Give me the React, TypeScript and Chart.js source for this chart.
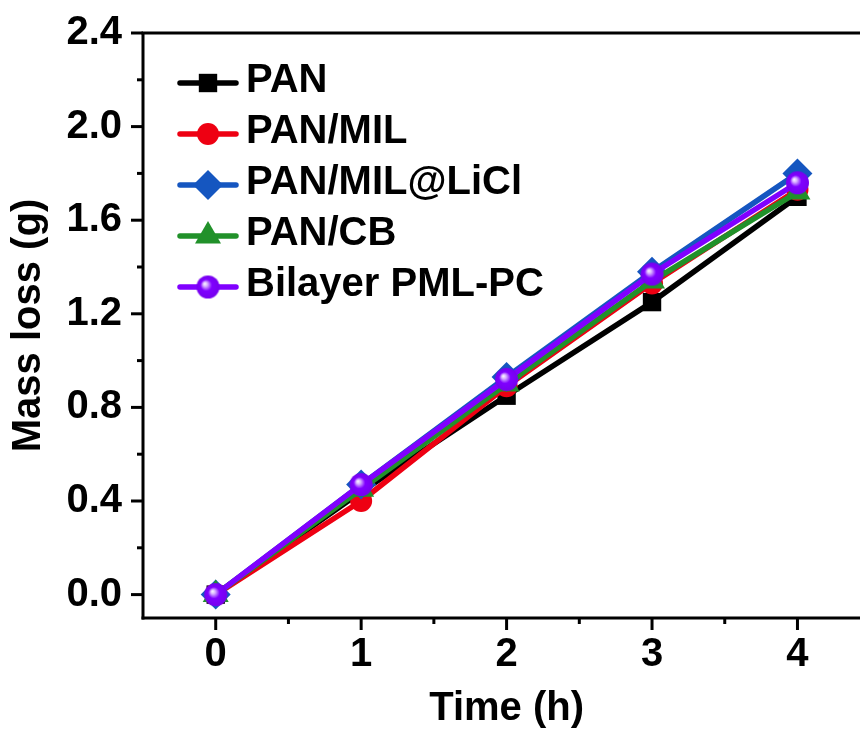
import React, { useEffect, useRef } from 'react';
import { Chart, registerables } from 'chart.js';

Chart.register(...registerables);

// ---- data ----
const TIME = [0, 1, 2, 3, 4];
const PAN = [0, 0.44, 0.85, 1.25, 1.70];
const PAN_MIL = [0, 0.40, 0.89, 1.33, 1.73];
const PAN_MIL_LICL = [0, 0.47, 0.93, 1.38, 1.80];
const PAN_CB = [0, 0.45, 0.90, 1.34, 1.72];
const BILAYER = [0, 0.47, 0.92, 1.37, 1.76];
const SERIES_NAMES = ['PAN', 'PAN/MIL', 'PAN/MIL@LiCl', 'PAN/CB', 'Bilayer PML-PC'];
const X_TICKS = [0, 1, 2, 3, 4];
const Y_TICKS = [0, 0.4, 0.8, 1.2, 1.6, 2.0, 2.4];
const X_TITLE = 'Time (h)';
const Y_TITLE = 'Mass loss (g)';

// ---- styles ----
const FONT = "'Liberation Sans', Arial, Helvetica, sans-serif";
const FS = 40;
const COLORS = ['#000000', '#EE0012', '#1556C0', '#21912A', '#8000FF'];
const STYLES = ['rect', 'circle', 'rectRot', 'triangle', 'sphere'];
const RADII = [13, 11, 15, 15, 11.5];

function makeSphere(r: number, color: string) {
  const c = document.createElement('canvas');
  const size = Math.ceil(r * 2) + 2;
  c.width = size;
  c.height = size;
  const g = c.getContext('2d')!;
  const cx = size / 2, cy = size / 2;
  const grad = g.createRadialGradient(cx - r * 0.3, cy - r * 0.3, 0, cx, cy, r);
  grad.addColorStop(0, '#ffffff');
  grad.addColorStop(0.2, '#d7b0ff');
  grad.addColorStop(0.5, color);
  grad.addColorStop(1, '#7600ee');
  g.fillStyle = grad;
  g.beginPath();
  g.arc(cx, cy, r, 0, Math.PI * 2);
  g.fill();
  return c;
}

function drawMarker(ctx: CanvasRenderingContext2D, style: any, x: number, y: number, r: number, color: string) {
  if (typeof style !== 'string') {
    ctx.drawImage(style, x - style.width / 2, y - style.height / 2);
    return;
  }
  ctx.fillStyle = color;
  ctx.beginPath();
  if (style === 'rect') {
    const s = r * Math.SQRT1_2;
    ctx.rect(x - s, y - s, 2 * s, 2 * s);
  } else if (style === 'circle') {
    ctx.arc(x, y, r, 0, Math.PI * 2);
  } else if (style === 'rectRot') {
    ctx.moveTo(x - r, y);
    ctx.lineTo(x, y - r);
    ctx.lineTo(x + r, y);
    ctx.lineTo(x, y + r);
    ctx.closePath();
  } else if (style === 'triangle') {
    ctx.moveTo(x, y - r);
    ctx.lineTo(x + r * 0.866, y + r / 2);
    ctx.lineTo(x - r * 0.866, y + r / 2);
    ctx.closePath();
  }
  ctx.fill();
}

const axesPlugin = {
  id: 'originAxes',
  beforeDatasetsDraw(chart: any) {
    const { ctx, chartArea, scales } = chart;
    const xs = scales.x, ys = scales.y;
    const L = chartArea.left, B = chartArea.bottom, T = chartArea.top, R = chartArea.right;
    ctx.save();
    ctx.strokeStyle = '#000';
    ctx.lineWidth = 3;
    ctx.lineCap = 'butt';
    const seg = (x1: number, y1: number, x2: number, y2: number) => {
      ctx.beginPath();
      ctx.moveTo(x1, y1);
      ctx.lineTo(x2, y2);
      ctx.stroke();
    };
    // frame
    seg(L - 1.5, T, R, T);
    seg(L, T, L, B + 1.5);
    seg(L - 1.5, B, R, B);
    // y ticks
    Y_TICKS.forEach((v, i) => {
      const py = ys.getPixelForValue(v);
      seg(L - 12, py, L, py);
      if (i < Y_TICKS.length - 1) {
        const pm = ys.getPixelForValue((v + Y_TICKS[i + 1]) / 2);
        seg(L - 6, pm, L, pm);
      }
    });
    // x ticks
    X_TICKS.forEach((v, i) => {
      const px = xs.getPixelForValue(v);
      seg(px, B, px, B + 12);
      if (i < X_TICKS.length - 1) {
        const pm = xs.getPixelForValue((v + X_TICKS[i + 1]) / 2);
        seg(pm, B, pm, B + 6);
      }
    });
    // x title, centred under the tick range
    ctx.fillStyle = '#000';
    ctx.font = `bold ${FS}px ${FONT}`;
    ctx.textAlign = 'center';
    ctx.textBaseline = 'middle';
    const cx = (xs.getPixelForValue(X_TICKS[0]) + xs.getPixelForValue(X_TICKS[X_TICKS.length - 1])) / 2;
    ctx.fillText(X_TITLE, cx, B + 91);
    ctx.restore();
  },
};

const legendPlugin = {
  id: 'originLegend',
  afterDatasetsDraw(chart: any) {
    const { ctx, chartArea } = chart;
    ctx.save();
    chart.data.datasets.forEach((ds: any, i: number) => {
      const rowY = chartArea.top + 46 + i * 51;
      const x0 = chartArea.left + 37;
      const x1 = chartArea.left + 93;
      const ly = rowY + 4;
      ctx.strokeStyle = ds.borderColor;
      ctx.lineWidth = 5.5;
      ctx.lineCap = 'round';
      ctx.beginPath();
      ctx.moveTo(x0, ly);
      ctx.lineTo(x1, ly);
      ctx.stroke();
      drawMarker(ctx, ds.pointStyle, (x0 + x1) / 2, ly, ds.pointRadius, ds.borderColor);
      ctx.fillStyle = '#000';
      ctx.font = `bold ${FS}px ${FONT}`;
      ctx.textAlign = 'left';
      ctx.textBaseline = 'middle';
      ctx.fillText(ds.label, chartArea.left + 103, rowY + 2);
    });
    ctx.restore();
  },
};

export default function App() {
  const ref = useRef<HTMLCanvasElement | null>(null);

  useEffect(() => {
    document.body.style.margin = '0';
    const canvas = ref.current!;
    const seriesValues = [PAN, PAN_MIL, PAN_MIL_LICL, PAN_CB, BILAYER];
    const datasets = seriesValues.map((vals, i) => ({
      label: SERIES_NAMES[i],
      data: TIME.map((t, j) => ({ x: t, y: vals[j] })),
      borderColor: COLORS[i],
      backgroundColor: COLORS[i],
      borderWidth: 5.5,
      borderCapStyle: 'round',
      borderJoinStyle: 'round',
      pointStyle: STYLES[i] === 'sphere' ? makeSphere(RADII[i], COLORS[i]) : STYLES[i],
      pointRadius: RADII[i],
      pointBorderWidth: 0,
      pointHoverRadius: RADII[i],
      order: seriesValues.length - i,
      clip: false,
      tension: 0,
    }));

    const tickFont = { family: FONT, size: FS, weight: 'bold' as const };

    const chart = new Chart(canvas, {
      type: 'line',
      data: { datasets: datasets as any },
      options: {
        animation: false,
        responsive: false,
        devicePixelRatio: 1,
        layout: { autoPadding: false, padding: { top: 33, right: 0, left: 0, bottom: 0 } },
        plugins: {
          legend: { display: false },
          tooltip: { enabled: false },
        },
        scales: {
          x: {
            type: 'linear',
            min: -0.5,
            max: 4.43,
            afterBuildTicks: (s: any) => {
              s.ticks = X_TICKS.map((v) => ({ value: v }));
            },
            afterFit: (s: any) => {
              s.height = 118;
              s.paddingLeft = 0;
              s.paddingRight = 0;
            },
            grid: { display: false, drawTicks: false },
            border: { display: false },
            ticks: {
              color: '#000',
              font: tickFont,
              padding: 13,
              maxRotation: 0,
              autoSkip: false,
              callback: (v: any) => String(v),
            },
            title: { display: false },
          },
          y: {
            type: 'linear',
            min: -0.1,
            max: 2.4,
            afterBuildTicks: (s: any) => {
              s.ticks = Y_TICKS.map((v) => ({ value: v }));
            },
            afterFit: (s: any) => {
              s.width = 143;
              s.paddingTop = 0;
              s.paddingBottom = 0;
            },
            grid: { display: false, drawTicks: false },
            border: { display: false },
            ticks: {
              color: '#000',
              font: tickFont,
              padding: 21,
              autoSkip: false,
              callback: (v: any) => Number(v).toFixed(1),
            },
            title: {
              display: true,
              text: Y_TITLE,
              color: '#000',
              font: tickFont,
              padding: { top: 5, bottom: 5 },
            },
          },
        },
      },
      plugins: [axesPlugin, legendPlugin],
    });

    return () => chart.destroy();
  }, []);

  return (
    <div style={{ position: 'fixed', left: 0, top: 0, width: 860, height: 736, background: '#fff' }}>
      <canvas ref={ref} width={860} height={736} style={{ display: 'block' }} />
    </div>
  );
}
